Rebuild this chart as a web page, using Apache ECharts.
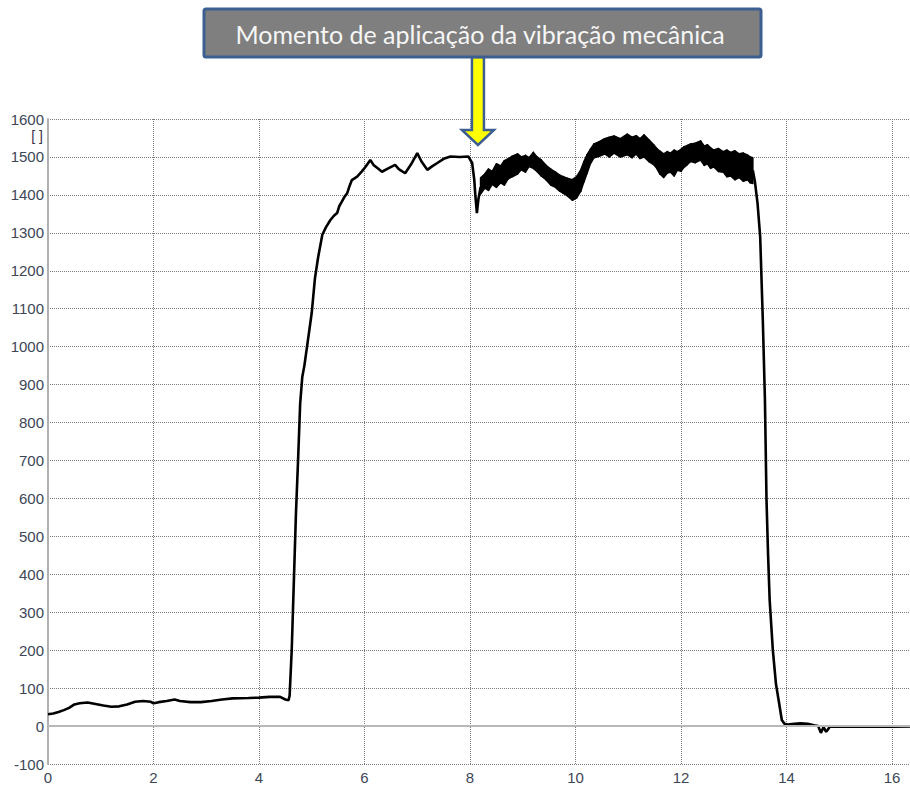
<!DOCTYPE html>
<html>
<head>
<meta charset="utf-8">
<script src="https://cdn.jsdelivr.net/npm/echarts@6/dist/echarts.min.js"></script>
<style>
html,body{margin:0;padding:0;background:#fff;}
#chart{width:910px;height:787px;}
</style>
</head>
<body>
<div id="chart"></div>
<script>
// ---- data ----
var annotationText = 'Momento de aplicação da vibração mecânica';
var unitLabel = '[ ]';
var xTicks = [0, 2, 4, 6, 8, 10, 12, 14, 16];
var yTicks = [-100, 0, 100, 200, 300, 400, 500, 600, 700, 800, 900, 1000, 1100, 1200, 1300, 1400, 1500, 1600];
var vibrationStartX = 8.15;

// before vibration (time, value)
var beforeX = [0.00,0.10,0.20,0.30,0.40,0.50,0.60,0.75,0.90,1.05,1.20,1.35,1.50,1.65,1.80,1.95,2.00,2.10,2.25,2.40,2.50,2.70,2.90,3.10,3.30,3.50,3.80,4.00,4.20,4.40,4.50,4.56,4.58,4.62,4.66,4.70,4.74,4.78,4.82,4.86,4.92,5.00,5.06,5.12,5.20,5.27,5.35,5.42,5.48,5.52,5.57,5.62,5.67,5.72,5.76,5.86,5.95,6.02,6.11,6.17,6.25,6.33,6.45,6.58,6.65,6.77,6.88,7.00,7.08,7.19,7.28,7.38,7.50,7.63,7.80,7.97,8.04,8.08,8.10,8.13,8.16,8.20];
var beforeY = [31,33,37,42,48,57,60,62,58,54,51,52,57,64,66,64,60,63,66,70,66,63,63,66,70,73,74,75,77,77,70,68,80,200,380,560,700,850,920,950,1010,1090,1180,1235,1295,1315,1333,1345,1352,1370,1382,1395,1404,1425,1439,1448,1462,1474,1492,1479,1470,1461,1470,1479,1468,1457,1480,1510,1488,1466,1475,1484,1495,1501,1500,1501,1484,1440,1400,1352,1390,1420];

// vibration band envelopes (time, lower edge, upper edge)
var bandX     = [8.20,8.28,8.35,8.42,8.50,8.58,8.65,8.72,8.80,8.90,8.97,9.05,9.12,9.20,9.27,9.35,9.44,9.53,9.62,9.70,9.77,9.84,9.94,10.02,10.10,10.16,10.22,10.28,10.35,10.45,10.55,10.64,10.73,10.85,10.98,11.07,11.15,11.22,11.30,11.39,11.48,11.54,11.60,11.67,11.74,11.80,11.87,11.93,12.00,12.05,12.12,12.18,12.27,12.37,12.44,12.50,12.56,12.62,12.71,12.80,12.87,12.94,13.02,13.10,13.18,13.26,13.31,13.36];
var bandLower = [1402,1418,1412,1428,1420,1432,1426,1442,1448,1455,1466,1460,1475,1470,1462,1450,1440,1426,1420,1410,1404,1398,1386,1392,1410,1435,1458,1482,1498,1502,1508,1500,1510,1500,1506,1498,1508,1496,1500,1488,1480,1470,1455,1446,1458,1460,1450,1465,1462,1472,1480,1488,1485,1492,1478,1482,1470,1474,1462,1460,1448,1450,1440,1446,1436,1440,1432,1430];
var bandUpper = [1445,1455,1468,1462,1482,1476,1490,1495,1502,1508,1500,1504,1498,1512,1500,1492,1478,1468,1460,1452,1448,1444,1440,1448,1466,1488,1506,1520,1534,1540,1548,1552,1555,1548,1560,1552,1556,1548,1558,1545,1532,1522,1515,1508,1514,1510,1518,1514,1520,1526,1530,1534,1536,1542,1528,1532,1524,1518,1522,1514,1518,1512,1516,1508,1510,1505,1500,1498];

// after vibration
var afterX = [13.36,13.40,13.45,13.50,13.52,13.55,13.59,13.62,13.65,13.68,13.74,13.80,13.85,13.91,13.96,14.02,14.15,14.26,14.40,14.52,14.60,14.65,14.70,14.75,14.78,14.82,15.00,15.30,15.60,16.00,16.34];
var afterY = [1465,1435,1378,1290,1202,1070,860,596,450,332,200,110,68,16,6,4,6,7,6,2,0,-18,-3,-15,-10,-2,-1,-2,-1,-2,-1];

function zip(a, b) { return a.map(function (v, i) { return [v, b[i]]; }); }
var beforeData = zip(beforeX, beforeY);
var afterData = zip(afterX, afterY);
var bandData = bandX.map(function (v, i) { return [v, bandLower[i], bandUpper[i]]; });

var chart = echarts.init(document.getElementById('chart'), null, {renderer: 'svg'});
var labelColor = '#3d4656';
var gridColor = '#7a7a7a';
var plainNum = function (v) { return String(v); };

function renderBand(params, api) {
  var i = params.dataIndex;
  if (i >= bandData.length - 1) return null;
  var a = bandData[i], b = bandData[i + 1];
  var pts = [
    api.coord([a[0], a[1]]), api.coord([b[0], b[1]]),
    api.coord([b[0], b[2]]), api.coord([a[0], a[2]])
  ];
  return {
    type: 'polygon',
    shape: {points: pts},
    style: {fill: '#000', stroke: '#000', lineWidth: 1.6, lineJoin: 'round'}
  };
}

chart.setOption({
  animation: false,
  backgroundColor: '#ffffff',
  grid: {left: 48, right: 0, top: 119, bottom: 23, containLabel: false},
  xAxis: {
    type: 'value', min: xTicks[0], max: 16.34, interval: 2,
    axisLine: {show: false, onZero: false},
    axisTick: {show: false},
    axisLabel: {color: labelColor, fontSize: 15, fontFamily: 'Liberation Sans, Arial, sans-serif', margin: 6, showMaxLabel: false, formatter: plainNum},
    splitLine: {show: true, showMaxLine: false, lineStyle: {color: gridColor, width: 1, type: [1, 1]}}
  },
  yAxis: {
    type: 'value', min: yTicks[0], max: yTicks[yTicks.length - 1], interval: 100,
    axisLine: {show: true, onZero: false, lineStyle: {color: '#b0b0b0', width: 2}},
    axisTick: {show: false},
    axisLabel: {color: labelColor, fontSize: 15, fontFamily: 'Liberation Sans, Arial, sans-serif', margin: 4, formatter: plainNum},
    splitLine: {show: true, lineStyle: {color: gridColor, width: 1, type: [1, 1]}}
  },
  series: [
    {
      name: 'before', type: 'line', data: beforeData, symbol: 'none', silent: true,
      lineStyle: {color: '#000', width: 2.6},
      markLine: {
        silent: true, symbol: 'none', label: {show: false},
        lineStyle: {color: '#b8b8b8', width: 2, type: 'solid'},
        data: [{yAxis: 0}]
      },
      z: 3
    },
    {
      name: 'band', type: 'custom', data: bandData, silent: true,
      encode: {x: 0, y: [1, 2]},
      renderItem: renderBand, z: 3
    },
    {
      name: 'after', type: 'line', data: afterData, symbol: 'none', silent: true,
      lineStyle: {color: '#000', width: 2.6}, z: 3
    }
  ]
});

var tip = chart.convertToPixel({gridIndex: 0}, [vibrationStartX, 1530]);
var ax = tip[0];
var tipY = 145;
var arrowPts = [
  [ax - 6, 57], [ax + 6, 57], [ax + 6, tipY - 15], [ax + 16, tipY - 15],
  [ax, tipY], [ax - 16, tipY - 15], [ax - 6, tipY - 15]
];

chart.setOption({
  graphic: [
    {
      type: 'polygon', z: 100,
      shape: {points: arrowPts},
      style: {fill: '#ffff00', stroke: '#3d5e90', lineWidth: 2.5}
    },
    {
      type: 'rect', z: 101,
      shape: {x: 204, y: 9, width: 557, height: 48, r: 2},
      style: {fill: '#7f7f7f', stroke: '#3d5e90', lineWidth: 3}
    },
    {
      type: 'text', z: 102,
      x: 480, y: 34,
      style: {text: annotationText, fill: '#f6f6f6', fontSize: 25, fontFamily: 'Lato, "Open Sans", sans-serif', align: 'center', verticalAlign: 'middle'}
    },
    {
      type: 'text', z: 102,
      x: 43, y: 136,
      style: {text: unitLabel, fill: '#3a3148', fontSize: 14, fontFamily: 'Liberation Sans, Arial, sans-serif', align: 'right', verticalAlign: 'middle'}
    }
  ]
});
</script>
</body>
</html>
